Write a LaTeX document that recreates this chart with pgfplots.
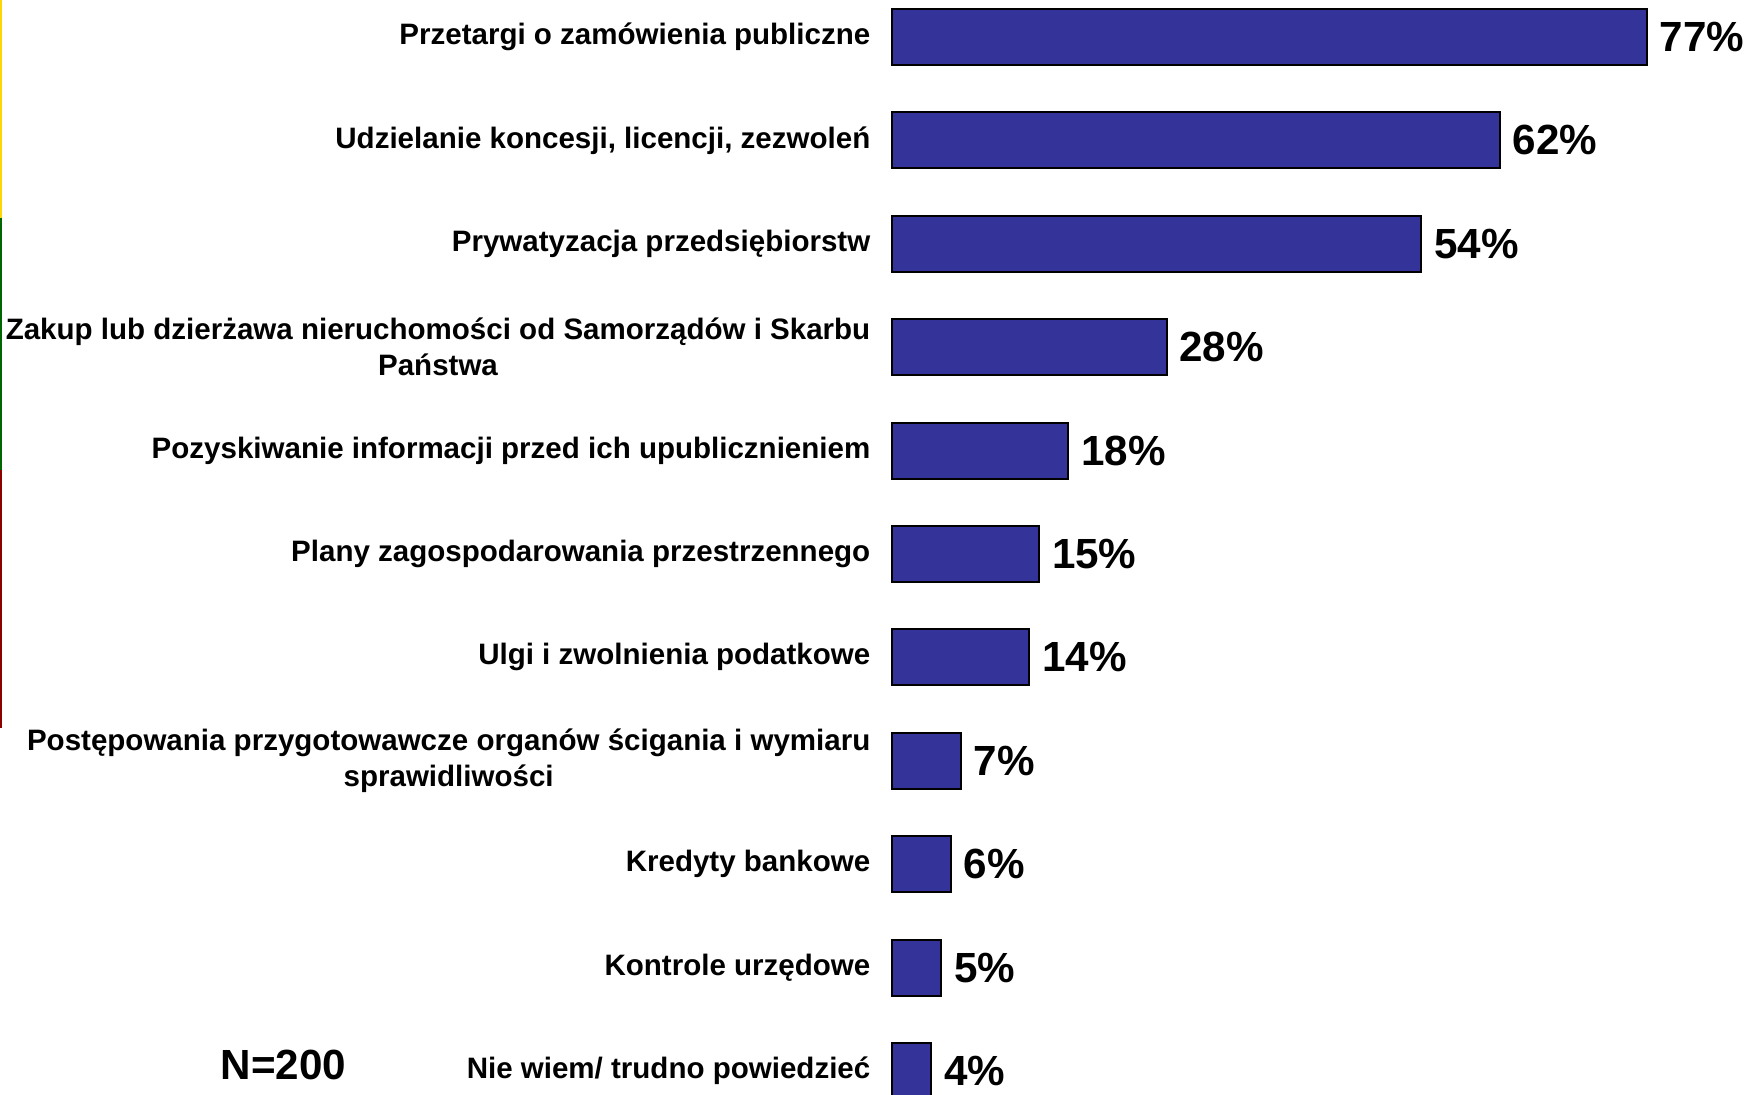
\documentclass[border=0pt]{standalone}
\usepackage{fontspec}
\setmainfont{Liberation Sans}
\usepackage{pgfplots}
\pgfplotsset{compat=1.18}
\definecolor{barblue}{HTML}{333399}

\begin{document}
\begin{tikzpicture}
% page frame: 1757 x 1095 px, 1 px = 0.01 cm
\useasboundingbox (0,0) rectangle (17.57,10.95);

% slide decoration on the left edge
\fill[yellow!75!orange] (0,10.95) rectangle (0.025,8.77);
\fill[green!40!black] (0,8.77) rectangle (0.025,6.25);
\fill[red!55!black] (0,6.25) rectangle (0.025,3.67);

\begin{axis}[
    at={(8.92cm,11.097cm)}, anchor=north west,
    scale only axis,
    width=8.65cm, height=11.374cm,
    xbar, bar width=0.54,
    xmin=0, xmax=88.22,
    ymin=-0.5, ymax=10.5,
    y dir=reverse,
    clip=false,
    axis line style={draw=none},
    major tick length=0pt,
    xtick=\empty,
    ytick={0,...,10},
    yticklabels={
        Przetargi o zamówienia publiczne,
        {Udzielanie koncesji, licencji, zezwoleń},
        Prywatyzacja przedsiębiorstw,
        {Zakup lub dzierżawa nieruchomości od Samorządów i Skarbu\\Państwa},
        Pozyskiwanie informacji przed ich upublicznieniem,
        Plany zagospodarowania przestrzennego,
        Ulgi i zwolnienia podatkowe,
        {Postępowania przygotowawcze organów ścigania i wymiaru\\sprawidliwości},
        Kredyty bankowe,
        Kontrole urzędowe,
        {Nie wiem/ trudno powiedzieć}
    },
    yticklabel style={align=center, inner sep=0pt, xshift=-0.21cm,
        font=\fontsize{8.4}{10.2}\selectfont\bfseries},
    point meta=x,
    nodes near coords={\pgfmathprintnumber[assume math mode=true]{\pgfplotspointmeta}\%},
    nodes near coords style={anchor=west, inner sep=0pt, xshift=0.12cm,
        font=\fontsize{12}{14}\selectfont\bfseries},
]
\addplot[fill=barblue, draw=black, line width=0.02cm] coordinates {
    (77,0) (62,1) (54,2) (28,3) (18,4) (15,5) (14,6) (7,7) (6,8) (5,9) (4,10)
};
\end{axis}

\node[font=\fontsize{12}{14}\selectfont\bfseries, inner sep=0pt, anchor=west]
    at (2.20,0.30) {N=200};
\end{tikzpicture}
\end{document}
